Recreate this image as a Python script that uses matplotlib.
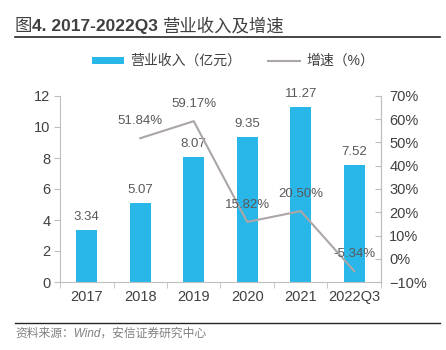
import matplotlib
matplotlib.use('Agg')
import matplotlib.pyplot as plt
import numpy as np

plt.rcParams['font.family'] = ['Liberation Sans', 'Noto Sans CJK SC', 'DejaVu Sans']

categories = ['2017', '2018', '2019', '2020', '2021', '2022Q3']
revenue = [3.34, 5.07, 8.07, 9.35, 11.27, 7.52]
growth = [np.nan, 51.84, 59.17, 15.82, 20.50, -5.34]

bar_color = '#29b6e8'
line_color = '#aca6a6'
label_color = '#595959'
tick_color = '#404040'
spine_color = '#bfbfbf'

fig = plt.figure(figsize=(4.46, 3.5), dpi=100)
ax = fig.add_axes([60 / 446, 68 / 350, 321 / 446, 186 / 350])
ax2 = ax.twinx()

x = np.arange(len(categories))
bars = ax.bar(x, revenue, width=0.4, color=bar_color, zorder=2)
ln, = ax2.plot(x, growth, color=line_color, lw=1.5, zorder=3)
ax2.set_zorder(ax.get_zorder() + 1)
ax2.patch.set_visible(False)

for xi, v in zip(x, revenue):
    ax.annotate(f'{v:.2f}', (xi, v), xytext=(0, 5), textcoords='offset points',
                ha='center', va='bottom', fontsize=9.5, color=label_color)
for xi, v in zip(x, growth):
    if np.isnan(v):
        continue
    ax2.annotate(f'{v:.2f}%', (xi, v), xytext=(0, 8), textcoords='offset points',
                 ha='center', va='bottom', fontsize=9.5, color=label_color)

ax.set_xlim(-0.5, len(categories) - 0.5)
ax.set_ylim(0, 12)
ax.set_yticks(range(0, 13, 2))
ax2.set_ylim(-10, 70)
ax2.set_yticks(range(-10, 71, 10))
ax2.set_yticklabels([f'{t}%'.replace('-', '−') for t in range(-10, 71, 10)])

ax.set_xticks(x)
ax.set_xticklabels(categories)
ax.set_xticks(np.arange(-0.5, len(categories), 1), minor=True)
ax.tick_params(axis='x', which='major', length=0, pad=6, labelsize=10.5, labelcolor=tick_color)
ax.tick_params(axis='x', which='minor', length=4, color=spine_color, direction='out')
ax.tick_params(axis='y', length=4, color=spine_color, labelsize=10.5, labelcolor=tick_color, pad=3)
ax2.tick_params(axis='y', length=4, color=spine_color, labelsize=10.5, labelcolor=tick_color,
                direction='in', pad=6)

for a in (ax, ax2):
    a.spines['top'].set_visible(False)
    for s in ('left', 'right', 'bottom'):
        a.spines[s].set_color(spine_color)
ax2.spines['left'].set_visible(False)
ax2.spines['bottom'].set_visible(False)

fig.legend([bars, ln], ['营业收入（亿元）', '增速（%）'], loc='center',
           bbox_to_anchor=(233 / 446, 1 - 61 / 350), ncol=2, frameon=False,
           fontsize=10, handlelength=2.3, handleheight=0.4, columnspacing=2.0,
           handletextpad=0.4, labelcolor='#404040')

# title: mixed weights, placed piece by piece
fig.canvas.draw()
renderer = fig.canvas.get_renderer()
tx = 15
for part, weight in [('图', 'normal'), ('4. 2017-2022Q3 ', 'bold'), ('营业收入及增速', 'normal')]:
    t = fig.text(tx / 446, 1 - 26 / 350, part, fontsize=12.5, fontweight=weight,
                 color='#404040', ha='left', va='center')
    tx += t.get_window_extent(renderer).width
fig.add_artist(plt.Line2D([15 / 446, 440 / 446], [1 - 37 / 350] * 2, color='#262626', lw=1.2))
fig.add_artist(plt.Line2D([15 / 446, 440 / 446], [1 - 323 / 350] * 2, color='#262626', lw=1.0))
fig.text(15 / 446, 1 - 334 / 350, '资料来源：Wind，安信证券研究中心', fontsize=8.5,
         style='italic', color='#808080', ha='left', va='center')

fig.savefig('out.png', dpi=100)
